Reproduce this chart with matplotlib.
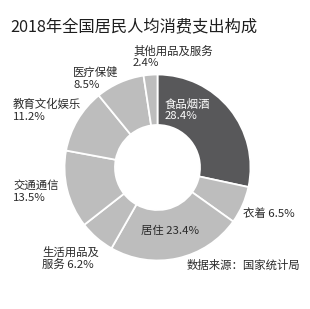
import matplotlib.pyplot as plt

plt.rcParams['font.family'] = ['Noto Sans CJK SC', 'DejaVu Sans']

# data
categories = ['食品烟酒', '衣着', '居住', '生活用品及服务', '交通通信',
              '教育文化娱乐', '医疗保健', '其他用品及服务']
shares = [28.4, 6.5, 23.4, 6.2, 13.5, 11.2, 8.5, 2.4]
title = '2018年全国居民人均消费支出构成'
source = '数据来源：国家统计局'

W, H = 310, 309
fig = plt.figure(figsize=(W / 100, H / 100), dpi=100)
ax = fig.add_axes([0, 0, 1, 1])


# image coords (top-down) -> data coords
def Y(y):
    return H - y


dark = '#58585a'
light = '#bdbdbd'
colors = [dark] + [light] * (len(shares) - 1)

ax.pie(shares, colors=colors, startangle=90, counterclock=False,
       center=(157.5, Y(167.5)), radius=93,
       wedgeprops=dict(width=93 - 42.5, edgecolor='white', linewidth=1.3))
# pie resets the limits, so set them afterwards
ax.set_xlim(0, W)
ax.set_ylim(0, H)
ax.set_aspect('equal')
ax.axis('off')

txt = '#2a2a2a'
ax.text(10, Y(27), title, fontsize=11.7, color='#1e1e1e', va='center', ha='left')

# label layout: (text, x, y_center, color)
labels = [
    ('%s\n%.1f%%' % (categories[0], shares[0]), 165, 110, 'white'),
    ('%s %.1f%%' % (categories[1], shares[1]), 243, 214, txt),
    ('%s %.1f%%' % (categories[2], shares[2]), 141, 231, txt),
    ('%s\n%s %.1f%%' % (categories[3][:5], categories[3][5:], shares[3]), 42, 259, txt),
    ('%s\n%.1f%%' % (categories[4], shares[4]), 13, 191.5, txt),
    ('%s\n%.1f%%' % (categories[5], shares[5]), 13, 110.5, txt),
    ('%s\n%.1f%%' % (categories[6], shares[6]), 73, 78.5, txt),
    ('%s\n%.1f%%' % (categories[7], shares[7]), 133, 57, txt),
]
for s, x, y, c in labels:
    ax.text(x, Y(y), s, fontsize=8.2, color=c, ha='left', va='center',
            linespacing=1.2)

ax.text(300, Y(265), source, fontsize=8.2, color=txt, ha='right', va='center')

fig.savefig('out.png', dpi=100, facecolor='white')
